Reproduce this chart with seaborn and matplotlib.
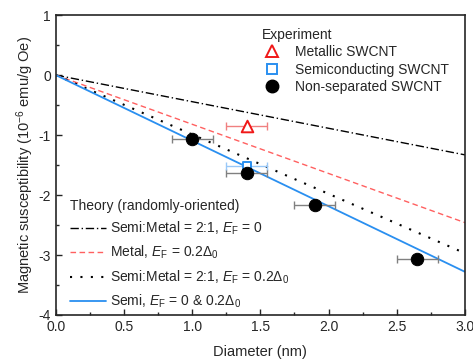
"""
Magnetic susceptibility vs SWCNT diameter: theory lines + experimental points.
"""

import matplotlib
matplotlib.use("Agg")
import matplotlib.pyplot as plt
from matplotlib.ticker import MultipleLocator
from matplotlib.lines import Line2D
import pandas as pd
import seaborn as sns

sns.set_style("ticks")
plt.rcParams["font.family"] = ["Liberation Sans", "DejaVu Sans"]
plt.rcParams["mathtext.fontset"] = "custom"
plt.rcParams["mathtext.rm"] = "Liberation Sans"
plt.rcParams["mathtext.it"] = "Liberation Sans:italic"
plt.rcParams["mathtext.bf"] = "Liberation Sans:bold"
plt.rcParams["xtick.direction"] = "in"
plt.rcParams["ytick.direction"] = "in"

RED = "#f01818"
RED_LIGHT = "#ff6060"
BLUE = "#2a8ff0"

# theory lines (straight from origin), end values read at d = 3 nm
theory_x = [0.0, 3.0]
semi_metal_ef0 = [0.0, -1.33]
metal_ef02 = [0.0, -2.46]
semi_metal_ef02 = [0.0, -2.97]
semi_ef = [0.0, -3.28]

# experiment
metal_d = [1.4]
metal_chi = [-0.85]
metal_err = [0.15]
semi_d = [1.4]
semi_chi = [-1.51]
semi_err = [0.15]
nonsep_d = [1.0, 1.4, 1.9, 2.65]
nonsep_chi = [-1.06, -1.63, -2.17, -3.07]
nonsep_err = [0.15, 0.15, 0.15, 0.15]

fig = plt.figure(figsize=(4.73, 3.6), dpi=100)
ax = fig.add_axes([0.118, 0.125, 0.865, 0.833])

theory = pd.DataFrame({"d": theory_x * 4,
                       "chi": semi_metal_ef0 + metal_ef02 + semi_metal_ef02 + semi_ef,
                       "model": ["a"] * 2 + ["b"] * 2 + ["c"] * 2 + ["d"] * 2})

styles = {"a": dict(color="black", ls=(0, (6, 2, 1, 2)), lw=1.0),
          "b": dict(color=RED_LIGHT, ls=(0, (4, 2.5)), lw=1.0),
          "c": dict(color="black", ls=(0, (1, 4)), lw=1.5),
          "d": dict(color=BLUE, ls="-", lw=1.3)}
for m, st in styles.items():
    sub = theory[theory["model"] == m]
    sns.lineplot(data=sub, x="d", y="chi", ax=ax, legend=False, **st)

# error bars
ax.errorbar(nonsep_d, nonsep_chi, xerr=nonsep_err, fmt="none", ecolor="#808080",
            elinewidth=1, capsize=3, zorder=3)
ax.errorbar(metal_d, metal_chi, xerr=metal_err, fmt="none", ecolor="#f08080",
            elinewidth=1, capsize=3, zorder=3)
ax.errorbar(semi_d, semi_chi, xerr=semi_err, fmt="none", ecolor="#99c8f8",
            elinewidth=1, capsize=3, zorder=3)

sns.scatterplot(x=metal_d, y=metal_chi, ax=ax, marker="^", s=70,
                facecolor="white", edgecolor=RED, linewidth=1.4, zorder=4)
sns.scatterplot(x=semi_d, y=semi_chi, ax=ax, marker="s", s=40,
                facecolor="white", edgecolor=BLUE, linewidth=1.4, zorder=4)
sns.scatterplot(x=nonsep_d, y=nonsep_chi, ax=ax, marker="o", s=80,
                color="black", edgecolor="black", zorder=5)

ax.set_xlim(0, 3)
ax.set_ylim(-4, 1)
ax.xaxis.set_major_locator(MultipleLocator(0.5))
ax.xaxis.set_minor_locator(MultipleLocator(0.25))
ax.yaxis.set_major_locator(MultipleLocator(1))
ax.yaxis.set_minor_locator(MultipleLocator(0.5))
ax.xaxis.set_major_formatter(plt.FuncFormatter(lambda v, p: f"{v:.1f}"))
ax.yaxis.set_major_formatter(plt.FuncFormatter(lambda v, p: f"{v:.0f}"))
ax.tick_params(which="major", length=4, width=1, labelsize=10)
ax.tick_params(which="minor", length=2.5, width=1)
for s in ax.spines.values():
    s.set_linewidth(1.2)

ax.set_xlabel("Diameter (nm)", fontsize=10.5, labelpad=8)
ax.set_ylabel(r"Magnetic susceptibility (10$^{-6}$ emu/g Oe)", fontsize=10.5, labelpad=2)

# legends
exp_handles = [
    Line2D([], [], ls="none", marker="^", ms=8.5, mfc="white", mec=RED, mew=1.4),
    Line2D([], [], ls="none", marker="s", ms=6.5, mfc="white", mec=BLUE, mew=1.4),
    Line2D([], [], ls="none", marker="o", ms=9, color="black"),
]
exp_labels = ["Metallic SWCNT", "Semiconducting SWCNT", "Non-separated SWCNT"]
leg1 = ax.legend(exp_handles, exp_labels, title="Experiment", loc="upper left",
                 bbox_to_anchor=(0.48, 0.99), frameon=False, fontsize=10,
                 title_fontsize=10, alignment="left", labelspacing=0.25,
                 handlelength=1.5, handletextpad=0.9, borderpad=0.2)
ax.add_artist(leg1)

th_handles = [Line2D([], [], **styles[m]) for m in ["a", "b", "c", "d"]]
th_labels = [r"Semi:Metal = 2:1, $E_\mathrm{F}$ = 0",
             r"Metal, $E_\mathrm{F}$ = 0.2$\Delta_0$",
             r"Semi:Metal = 2:1, $E_\mathrm{F}$ = 0.2$\Delta_0$",
             r"Semi, $E_\mathrm{F}$ = 0 & 0.2$\Delta_0$"]
ax.legend(th_handles, th_labels, title="Theory (randomly-oriented)", loc="upper left",
          bbox_to_anchor=(0.01, 0.42), frameon=False, fontsize=10,
          title_fontsize=10, alignment="left", labelspacing=0.5,
          handlelength=2.6, handletextpad=0.3, borderpad=0.2)

fig.savefig("out.png", dpi=100)
